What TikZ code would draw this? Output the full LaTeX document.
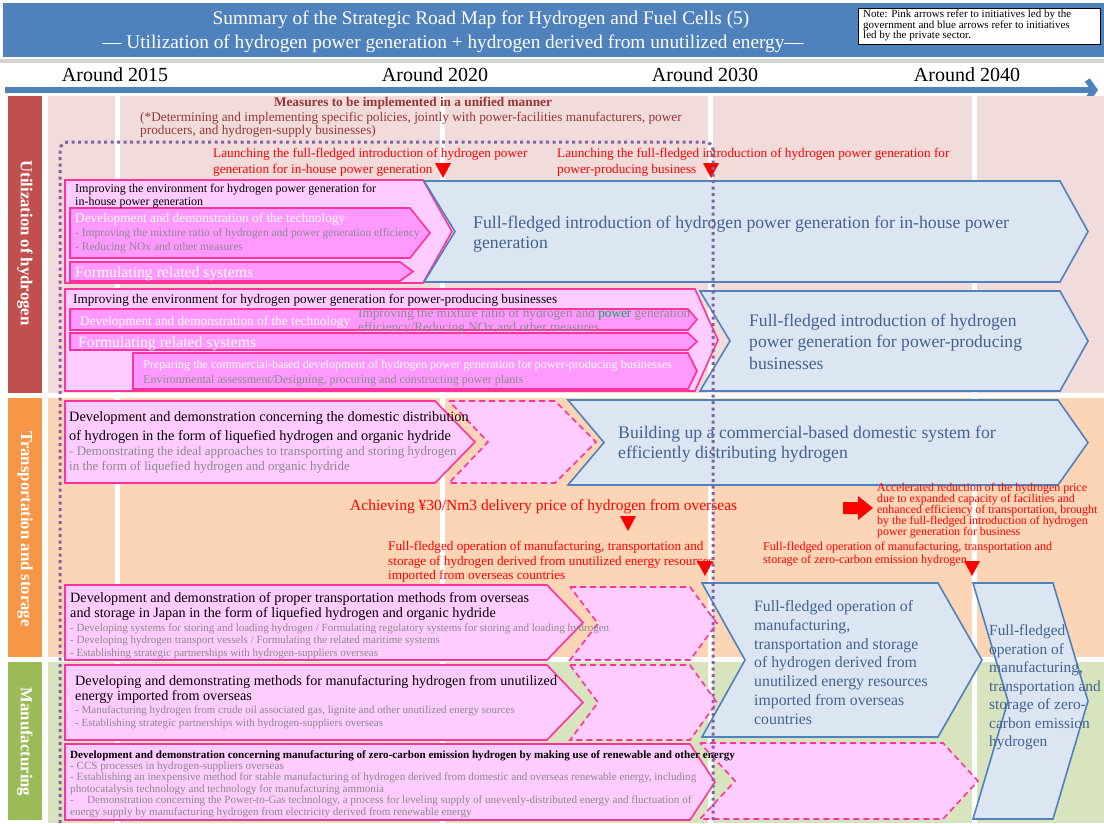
\documentclass[tikz,border=0pt]{standalone}
\usepackage{fontspec}
\setmainfont{Liberation Serif}
\usepackage{xcolor}
\usetikzlibrary{arrows.meta,positioning,calc}

\definecolor{rmtitle}{HTML}{4F81BD}
\definecolor{rmhot}{HTML}{FF3399}
\definecolor{rmpinklt}{HTML}{FFCCFF}
\definecolor{rmpinkdk}{HTML}{FF99FF}
\definecolor{rmblue}{HTML}{4F81BD}
\definecolor{rmbluelt}{HTML}{DCE6F2}
\definecolor{rmbluetxt}{HTML}{43628F}
\definecolor{rmgrey}{HTML}{8A8A8A}
\definecolor{rmbrown}{HTML}{953735}
\definecolor{rmpurple}{HTML}{8064A2}
\definecolor{rmgreen}{HTML}{00B050}
\definecolor{bandpink}{HTML}{F2DCDB}
\definecolor{bandorange}{HTML}{FBD5B5}
\definecolor{bandgreen}{HTML}{D7E4BD}
\definecolor{siderred}{HTML}{C0504D}
\definecolor{sideorange}{HTML}{F79646}
\definecolor{sidegreen}{HTML}{9BBB59}

\newcommand{\fsz}[2]{\fontsize{#1}{#2}\selectfont}
% pentagon arrow: style, left, top, body end, tip, bottom
\newcommand{\rmpenta}[6]{\draw[#1] (#2,#3) -- (#4,#3) -- (#5,{(#3+#6)/2}) -- (#4,#6) -- (#2,#6) -- cycle;}
% chevron: style, left, notch, top, body end, tip, bottom
\newcommand{\rmchev}[7]{\draw[#1] (#2,#4) -- (#5,#4) -- (#6,{(#4+#7)/2}) -- (#5,#7) -- (#2,#7) -- (#3,{(#4+#7)/2}) -- cycle;}
\newcommand{\rmmark}[2]{\fill[red] (#1-8,#2) -- (#1+8,#2) -- (#1,#2+15) -- cycle;}

\begin{document}
\begin{tikzpicture}[x=1pt, y=-1pt,
    rm pink/.style={draw=rmhot, line width=1.6pt, fill=rmpinklt},
    rm inner/.style={draw=rmhot, line width=1.6pt, fill=rmpinkdk},
    rm ghost/.style={draw=rmhot, line width=1.6pt, dash pattern=on 6pt off 4pt, fill=rmpinklt},
    rm blue/.style={draw=rmblue, line width=1.6pt, fill=rmbluelt},
    rm txt/.style={anchor=north west, inner sep=0pt, align=left},
    rm side/.style={rotate=-90, text=white, font=\bfseries\fsz{16.7}{16.7}},
    rm year/.style={font=\fsz{20}{20}, inner sep=0pt}]

    \useasboundingbox (0,0) rectangle (1104,823);

    % title
    \fill[rmtitle] (3,3) rectangle (1104,57);
    \fill[gray!35] (0,59) rectangle (1104,63);
    \node[text=white, font=\fsz{19.3}{19.3}, inner sep=0pt] (title) at (481,20) {Summary of the Strategic Road Map for Hydrogen and Fuel Cells (5)};
    \node[text=white, font=\fsz{19.3}{19.3}, inner sep=0pt] (subtitle) at (453,44) {--- Utilization of hydrogen power generation + hydrogen derived from unutilized energy---};
    \draw[fill=white, draw=black, line width=0.6pt] (858,8) rectangle (1100,44);
    \node[rm txt, font=\fsz{11}{10.5}] (note) at (863,10) {Note: Pink arrows refer to initiatives led by the\\government and blue arrows refer to initiatives\\led by the private sector.};

    % years
    \node[rm year] (y2015) at (115,75) {Around 2015};
    \node[rm year] (y2020) at (435,75) {Around 2020};
    \node[rm year] (y2030) at (705,75) {Around 2030};
    \node[rm year] (y2040) at (967,75) {Around 2040};
    \coordinate (tl start) at (5,90);
    \coordinate (tl end) at (1098,90);
    \draw[rmtitle, line width=6pt, -{Straight Barb[length=7pt, width=20pt]}] (tl start) -- (tl end);

    % bands
    \fill[bandpink] (48,96) rectangle (1104,393);
    \fill[bandorange] (48,398) rectangle (1104,657);
    \fill[bandgreen] (48,662) rectangle (1104,823);
    \fill[siderred] (8,96) rectangle (42,393);
    \fill[sideorange] (8,398) rectangle (42,657);
    \fill[sidegreen] (8,662) rectangle (42,820);
    \node[rm side] (util) at (25,243) {Utilization of hydrogen};
    \node[rm side] (trans) at (25,529) {Transportation and storage};
    \node[rm side] (manu) at (25,742) {Manufacturing};
    \foreach \gx in {117,442,710,974}
        \draw[white, line width=5pt] (\gx,96) -- (\gx,823);

    \node[font=\bfseries\fsz{13.3}{13.3}, text=rmbrown, inner sep=0pt] (unified) at (413,103) {Measures to be implemented in a unified manner};
    \node[rm txt, font=\fsz{13.3}{13}, text=rmbrown] (unified note) at (140,112.3) {(*Determining and implementing specific policies, jointly with power-facilities manufacturers, power\\producers, and hydrogen-supply businesses)};

    % utilization of hydrogen
    \node[rm txt, font=\fsz{13.25}{16}, text=red] (launch a) at (213,148.4) {Launching the full-fledged introduction of hydrogen power\\generation for in-house power generation};
    \node[rm txt, font=\fsz{13.25}{16}, text=red] (launch b) at (557,148.4) {Launching the full-fledged introduction of hydrogen power generation for\\power-producing business};
    \rmmark{443}{163}
    \rmmark{711}{163}

    \rmpenta{rm pink}{65}{180}{423}{452}{283}
    \rmpenta{rm inner}{70}{208}{410}{430}{258}
    \rmpenta{rm inner}{70}{262}{400}{413}{281}
    \rmchev{rm blue}{424}{455}{181}{1060}{1088}{282}
    \node[rm txt, font=\fsz{12}{13}] (inhouse) at (75,183.8) {Improving the environment for hydrogen power generation for\\in-house power generation};
    \node[rm txt, font=\fsz{13.3}{13.3}, text=white] (tech a) at (75,213.3) {Development and demonstration of the technology};
    \node[rm txt, font=\fsz{11.5}{14}, text=rmgrey] (tech a list) at (75,228) {- Improving the mixture ratio of hydrogen and power generation efficiency\\- Reducing NOx and other measures};
    \node[rm txt, font=\fsz{15.7}{15.7}, text=white] (rules a) at (75,266.5) {Formulating related systems};
    \node[rm txt, font=\fsz{17.7}{20}, text=rmbluetxt] (intro a) at (473,215.8) {Full-fledged introduction of hydrogen power generation for in-house power\\generation};

    \rmpenta{rm pink}{65}{289}{695}{718}{391}
    \rmpenta{rm inner}{70}{309}{688}{697}{330}
    \rmpenta{rm inner}{70}{333}{688}{697}{350}
    \rmpenta{rm inner}{133}{353}{688}{697}{389}
    \rmchev{rm blue}{700}{730}{291}{1060}{1088}{391}
    \node[rm txt, font=\fsz{13.2}{13}] (producing) at (73,294.4) {Improving the environment for hydrogen power generation for power-producing businesses};
    \node[rm txt, font=\fsz{13.3}{13.3}, text=white] (tech b) at (80,316.3) {Development and demonstration of the technology};
    \node[rm txt, font=\fsz{13.2}{12}, text=rmgrey] (tech b list) at (358,308.4) {Improving the mixture ratio of hydrogen and \textcolor{rmgreen}{power} generation\\efficiency/Reducing NOx and other measures};
    \node[rm txt, font=\fsz{15.7}{15.7}, text=white] (rules b) at (78,336.5) {Formulating related systems};
    \node[rm txt, font=\fsz{12.1}{12.1}, text=white] (prepare) at (143,359.8) {Preparing the commercial-based development of hydrogen power generation for power-producing businesses};
    \node[rm txt, font=\fsz{12}{12}, text=rmgrey] (prepare list) at (143,374.8) {Environmental assessment/Designing, procuring and constructing power plants};
    \node[rm txt, font=\fsz{17.6}{21.5}, text=rmbluetxt] (intro b) at (749,313.8) {Full-fledged introduction of hydrogen\\power generation for power-producing\\businesses};

    % transportation and storage
    \rmpenta{rm pink}{65}{401}{435}{475}{483}
    \rmchev{rm ghost}{449}{488}{401}{555}{596}{483}
    \rmchev{rm blue}{568}{604}{400}{1058}{1088}{485}
    \node[rm txt, font=\fsz{14.3}{19}] (domestic) at (69,411) {Development and demonstration concerning the domestic distribution\\of hydrogen in the form of liquefied hydrogen and organic hydride};
    \node[rm txt, font=\fsz{13}{15}, text=rmgrey] (domestic list) at (69,446.5) {- Demonstrating the ideal approaches to transporting and storing hydrogen\\in the form of liquefied hydrogen and organic hydride};
    \node[rm txt, font=\fsz{17.7}{20}, text=rmbluetxt] (distrib) at (618,425.8) {Building up a commercial-based domestic system for\\efficiently distributing hydrogen};

    \node[rm txt, font=\fsz{15.5}{15.5}, text=red] (price) at (350,499.6) {Achieving ¥30/Nm3 delivery price of hydrogen from overseas};
    \rmmark{628}{516}
    \fill[red] (843,502) -- (858,502) -- (858,496) -- (873,508) -- (858,520) -- (858,514) -- (843,514) -- cycle;
    \node[rm txt, font=\fsz{11.9}{11}, text=red] (accel) at (877,482.8) {Accelerated reduction of the hydrogen price\\due to expanded capacity of facilities and\\enhanced efficiency of transportation, brought\\by the full-fledged introduction of hydrogen\\power generation for business};
    \node[rm txt, font=\fsz{13.2}{14.5}, text=red] (ops a) at (388,541.4) {Full-fledged operation of manufacturing, transportation and\\storage of hydrogen derived from unutilized energy resources\\imported from overseas countries};
    \node[rm txt, font=\fsz{12.1}{13}, text=red] (ops b) at (763,541.8) {Full-fledged operation of manufacturing, transportation and\\storage of zero-carbon emission hydrogen};
    \rmmark{705}{561}
    \rmmark{972}{561}

    \rmpenta{rm pink}{65}{585}{547}{583}{660}
    \rmchev{rm ghost}{570}{598}{587}{690}{717}{660}
    \node[rm txt, font=\fsz{14.2}{15}] (overseas) at (70,592) {Development and demonstration of proper transportation methods from overseas\\and storage in Japan in the form of liquefied hydrogen and organic hydride};
    \node[rm txt, font=\fsz{11}{12.5}, text=rmgrey] (overseas list) at (70,623.2) {- Developing systems for storing and loading hydrogen / Formulating regulatory systems for storing and loading hydrogen\\- Developing hydrogen transport vessels / Formulating the related maritime systems\\- Establishing strategic partnerships with hydrogen-suppliers overseas};

    % manufacturing
    \rmpenta{rm pink}{65}{665}{547}{583}{740}
    \rmchev{rm ghost}{570}{598}{665}{690}{717}{740}
    \node[rm txt, font=\fsz{14.2}{15}] (unutil) at (75,675) {Developing and demonstrating methods for manufacturing hydrogen from unutilized\\energy imported from overseas};
    \node[rm txt, font=\fsz{11}{13}, text=rmgrey] (unutil list) at (75,705.2) {- Manufacturing hydrogen from crude oil associated gas, lignite and other unutilized energy sources\\- Establishing strategic partnerships with hydrogen-suppliers overseas};

    \rmchev{rm blue}{702}{745}{583}{938}{982}{737}
    \node[rm txt, font=\fsz{15.8}{18.7}, text=rmbluetxt] (ops c) at (754,600.5) {Full-fledged operation of\\manufacturing,\\transportation and storage\\of hydrogen derived from\\unutilized energy resources\\imported from overseas\\countries};

    \rmpenta{rm pink}{65}{744}{690}{715}{820}
    \rmchev{rm ghost}{700}{735}{743}{943}{978}{819}
    \node[rm txt, font=\bfseries\fsz{11.1}{11.1}] (zero) at (70,750.1) {Development and demonstration concerning manufacturing of zero-carbon emission hydrogen by making use of renewable and other energy};
    \node[rm txt, font=\fsz{11.1}{11.5}, text=rmgrey] (zero list) at (70,761.1) {- CCS processes in hydrogen-suppliers overseas\\- Establishing an inexpensive method for stable manufacturing of hydrogen derived from domestic and overseas renewable energy, including\\photocatalysis technology and technology for manufacturing ammonia\\-\hspace{1.2em}Demonstration concerning the Power-to-Gas technology, a process for leveling supply of unevenly-distributed energy and fluctuation of\\energy supply by manufacturing hydrogen from electricity derived from renewable energy};

    \rmchev{rm blue}{973}{1008}{583}{1053}{1088}{819}
    \node[rm txt, font=\fsz{15.4}{18.5}, text=rmbluetxt] (ops d) at (989,624.6) {Full-fledged\\operation of\\manufacturing,\\transportation and\\storage of zero-\\carbon emission\\hydrogen};

    % unified measures frame
    \draw[rmpurple, line width=3pt, dash pattern=on 3pt off 3.5pt, rounded corners=8pt] (60,823) |- (713,142) -- (713,823);

\end{tikzpicture}
\end{document}
